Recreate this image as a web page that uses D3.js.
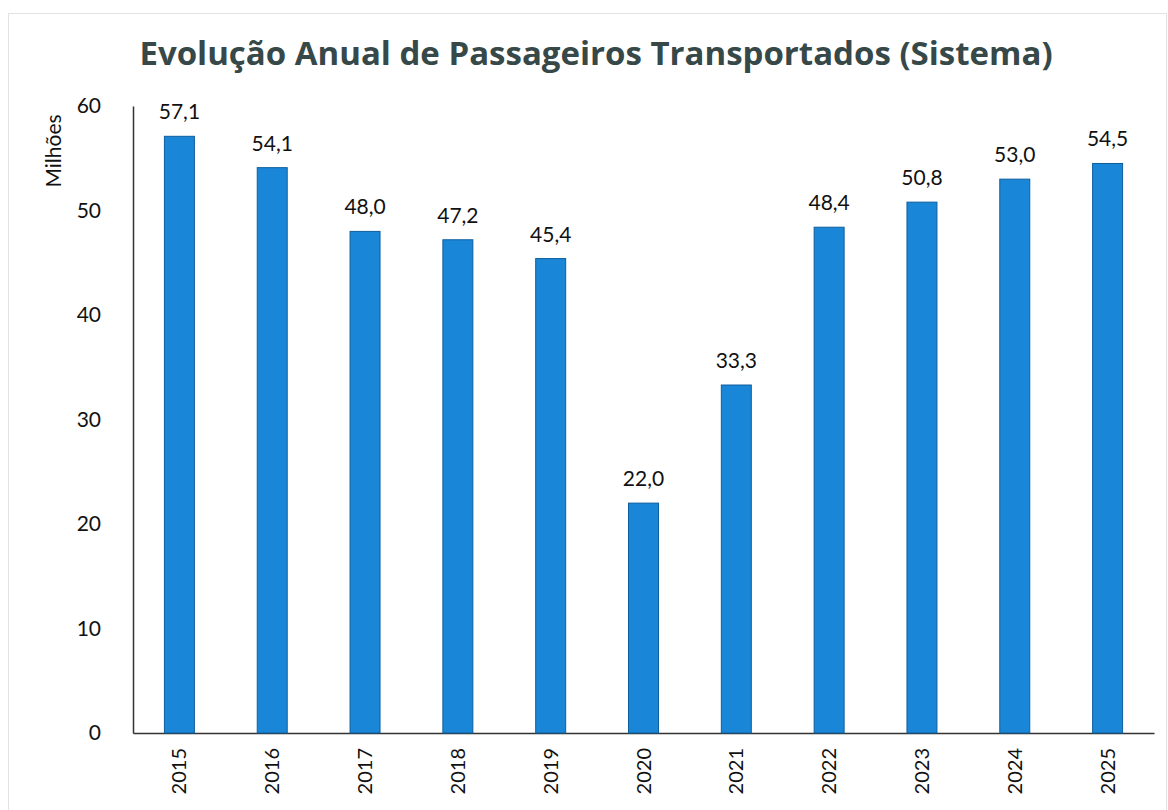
<!DOCTYPE html>
<html>
<head>
<meta charset="utf-8">
<script src="https://cdn.jsdelivr.net/npm/d3@7"></script>
<style>
  body { margin: 0; background: #fff; }
  text { font-family: Lato, "Open Sans", sans-serif; }
</style>
</head>
<body>
<div id="chart"></div>
<script>
// data
var years = ["2015", "2016", "2017", "2018", "2019", "2020", "2021", "2022", "2023", "2024", "2025"];
var passengers = [57.1, 54.1, 48.0, 47.2, 45.4, 22.0, 33.3, 48.4, 50.8, 53.0, 54.5];
var yTicks = [0, 10, 20, 30, 40, 50, 60];

var W = 1168, H = 810;
var margin = { top: 106, right: 14, bottom: 77, left: 133 };

var svg = d3.select("#chart")
    .append("svg")
    .attr("width", W)
    .attr("height", H);

// faint frame of the chart area
svg.append("rect")
    .attr("x", 8.5).attr("y", 13.5)
    .attr("width", W - 10).attr("height", H)
    .attr("fill", "none")
    .attr("stroke", "#e2e2e2");

var x = d3.scaleBand()
    .domain(years)
    .range([margin.left, W - margin.right])
    .paddingInner(0.677)
    .paddingOuter(0.3385);

var y = d3.scaleLinear()
    .domain([0, 60])
    .range([H - margin.bottom, margin.top]);

// title
svg.append("text")
    .attr("x", 596)
    .attr("y", 65)
    .attr("text-anchor", "middle")
    .attr("font-size", "33px")
    .attr("font-weight", "bold")
    .attr("fill", "#364848")
    .style("font-family", "'Open Sans', sans-serif")
    .text("Evolução Anual de Passageiros Transportados (Sistema)");

// Y axis
var yAxis = svg.append("g")
    .attr("transform", "translate(" + margin.left + ",0)")
    .call(d3.axisLeft(y).tickValues(yTicks).tickSize(0).tickPadding(32));
yAxis.select(".domain").attr("stroke", "#333").attr("stroke-width", 1.5);
yAxis.selectAll("text")
    .attr("font-size", "21px")
    .attr("fill", "#111")
    .style("font-family", "Lato, sans-serif");

// X axis
var xAxis = svg.append("g")
    .attr("transform", "translate(0," + y(0) + ")")
    .call(d3.axisBottom(x).tickSize(0).tickSizeOuter(0));
xAxis.select(".domain").attr("stroke", "#333").attr("stroke-width", 1.5);
xAxis.selectAll("text")
    .attr("font-size", "20px")
    .attr("fill", "#111")
    .style("font-family", "Lato, sans-serif")
    .attr("transform", "rotate(-90)")
    .attr("text-anchor", "end")
    .attr("x", -15)
    .attr("y", 0)
    .attr("dy", "0.35em");

// Y axis title
svg.append("text")
    .attr("transform", "translate(61,151) rotate(-90)")
    .attr("text-anchor", "middle")
    .attr("font-size", "21px")
    .attr("fill", "#111")
    .text("Milhões");

// bars
svg.selectAll("rect.bar")
    .data(passengers)
    .enter()
    .append("rect")
    .attr("class", "bar")
    .attr("x", function (d, i) { return x(years[i]); })
    .attr("y", function (d) { return y(d); })
    .attr("width", x.bandwidth())
    .attr("height", function (d) { return y(0) - y(d); })
    .attr("fill", "#1a86d8")
    .attr("stroke", "#0f5e9c")
    .attr("stroke-width", 1);

// value labels
svg.selectAll("text.val")
    .data(passengers)
    .enter()
    .append("text")
    .attr("class", "val")
    .attr("x", function (d, i) { return x(years[i]) + x.bandwidth() / 2; })
    .attr("y", function (d) { return y(d) - 17; })
    .attr("text-anchor", "middle")
    .attr("font-size", "21px")
    .attr("fill", "#111")
    .text(function (d) { return d.toFixed(1).replace(".", ","); });
</script>
</body>
</html>
